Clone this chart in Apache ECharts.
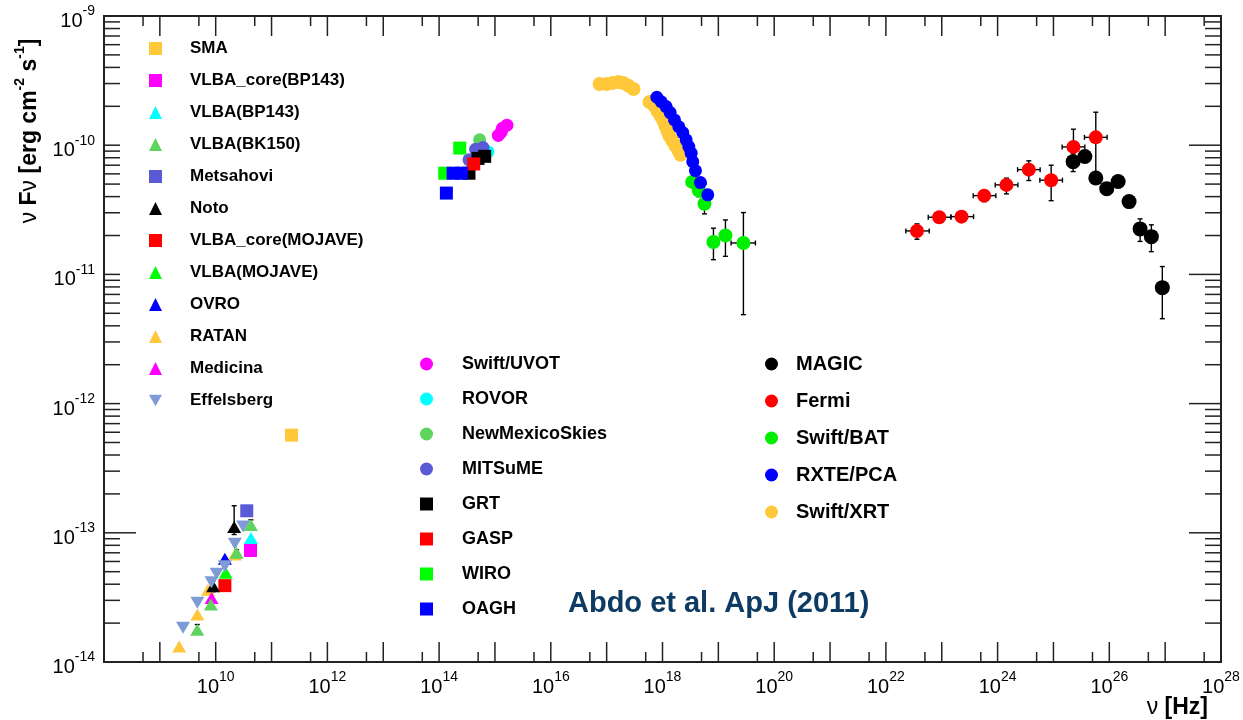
<!DOCTYPE html>
<html>
<head>
<meta charset="utf-8">
<title>Mrk 421 SED</title>
<script src="https://cdn.jsdelivr.net/npm/echarts@6/dist/echarts.min.js"></script>
<style>
  html, body { margin: 0; padding: 0; background: #ffffff; }
  #chart { width: 1243px; height: 720px; }
</style>
</head>
<body>
<div id="chart"></div>
<script>
// ---- data: [frequency (Hz), nuFnu (erg cm^-2 s^-1)] ----
// radio / mm
const smaData = [[2.28e11, 5.7e-13]];
const vlbaCoreBP143Data = [[4.2e10, 7.3e-14]];
const vlbaBP143Data = [[4.27e10, 9.1e-14]];
const vlbaBK150Data = [[4.27e10, 1.15e-13], [2.37e10, 7.0e-14], [8.2e9, 2.79e-14], [4.67e9, 1.78e-14]];
const metsahoviData = [[3.6e10, 1.48e-13]];
const notoData = [[2.14e10, 1.11e-13], [9.0e9, 3.85e-14]];
const vlbaCoreMojaveData = [[1.46e10, 3.9e-14]];
const vlbaMojaveData = [[1.51e10, 4.9e-14]];
const ovroData = [[1.46e10, 6.3e-14]];
const ratanData = [[2.2e10, 6.8e-14], [7.3e9, 3.63e-14], [4.7e9, 2.33e-14], [2.22e9, 1.32e-14]];
const medicinaData = [[8.45e9, 3.13e-14]];
const effelsbergData = [[3.1e10, 1.12e-13], [2.2e10, 8.24e-14], [1.46e10, 5.5e-14], [1.04e10, 4.83e-14],
                        [8.4e9, 4.14e-14], [4.7e9, 2.87e-14], [2.6e9, 1.84e-14]];
// radio y-ranges [low, high]
const vlbaCoreBP143YErr = [[6.6e-14, 8.0e-14]];
const vlbaBK150YErr = [[1.05e-13, 1.26e-13], [6.6e-14, 7.4e-14], [2.6e-14, 3.0e-14], [1.65e-14, 1.95e-14]];
const notoYErr = [[9.7e-14, 1.62e-13], [3.5e-14, 4.25e-14]];

// optical / UV
const swiftUvotData = [[1.15e15, 1.19e-10], [1.30e15, 1.27e-10], [1.36e15, 1.35e-10], [1.64e15, 1.43e-10]];
const rovorData = [[7.5e14, 8.9e-11]];
const newMexicoSkiesData = [[5.32e14, 1.1e-10]];
const mitsumeData = [[6.1e14, 9.6e-11], [4.5e14, 9.3e-11], [3.43e14, 7.7e-11]];
const grtData = [[6.55e14, 8.2e-11], [4.97e14, 7.9e-11], [3.43e14, 6.07e-11]];
const gaspData = [[4.17e14, 7.16e-11]];
const wiroData = [[2.34e14, 9.5e-11], [1.26e14, 6.07e-11]];
const oaghData = [[1.78e14, 6.07e-11], [2.5e14, 6.07e-11], [1.35e14, 4.26e-11]];

// X-ray
const swiftXrtData = [[7.47e16, 2.98e-10], [1.0e17, 2.98e-10], [1.28e17, 3.03e-10], [1.63e17, 3.09e-10],
  [2.0e17, 3.03e-10], [2.47e17, 2.88e-10], [3.03e17, 2.72e-10],
  [5.85e17, 2.16e-10], [7.19e17, 2.01e-10], [8.14e17, 1.84e-10], [9.2e17, 1.69e-10], [1.04e18, 1.54e-10],
  [1.13e18, 1.41e-10], [1.23e18, 1.29e-10], [1.33e18, 1.18e-10], [1.51e18, 1.08e-10], [1.71e18, 9.88e-11],
  [1.93e18, 9.04e-11], [2.1e18, 8.42e-11]];
const rxtePcaData = [[7.91e17, 2.35e-10], [9.49e17, 2.17e-10], [1.16e18, 1.99e-10], [1.37e18, 1.79e-10],
  [1.64e18, 1.57e-10], [1.96e18, 1.39e-10], [2.31e18, 1.25e-10], [2.65e18, 1.10e-10], [2.96e18, 9.75e-11],
  [3.26e18, 8.67e-11], [3.48e18, 7.46e-11], [3.89e18, 6.35e-11], [4.78e18, 5.14e-11], [6.46e18, 4.13e-11]];
const swiftBatData = [[3.4e18, 5.2e-11], [4.46e18, 4.46e-11], [5.64e18, 3.52e-11], [8.17e18, 1.78e-11],
  [1.34e19, 2.0e-11], [2.81e19, 1.75e-11]];
const swiftBatYErr = [[4.9e-11, 5.5e-11], [4.0e-11, 4.96e-11], [2.94e-11, 5.02e-11], [1.30e-11, 2.28e-11],
  [1.38e-11, 2.64e-11], [4.88e-12, 3.01e-11]];
const swiftBatXErr = [null, null, null, null, null, [1.69e19, 4.61e19]];

// gamma-ray
const fermiData = [[3.6e22, 2.17e-11], [9.0e22, 2.77e-11], [2.26e23, 2.8e-11], [5.75e23, 4.07e-11],
  [1.44e24, 4.93e-11], [3.62e24, 6.47e-11], [9.1e24, 5.36e-11], [2.28e25, 9.7e-11], [5.73e25, 1.15e-10]];
const fermiXErr = [[2.28e22, 5.97e22], [5.73e22, 1.46e23], [1.46e23, 3.71e23], [3.66e23, 9.31e23],
  [9.06e23, 2.31e24], [2.28e24, 5.78e24], [5.71e24, 1.45e25], [1.43e25, 3.65e25], [3.59e25, 9.14e25]];
const fermiYErr = [[1.87e-11, 2.46e-11], [2.62e-11, 2.93e-11], [2.66e-11, 2.95e-11], [3.66e-11, 4.46e-11],
  [4.2e-11, 5.56e-11], [5.33e-11, 7.57e-11], [3.72e-11, 7.0e-11], [7.46e-11, 1.33e-10], [5.0e-11, 1.8e-10]];
const magicData = [[2.25e25, 7.46e-11], [3.65e25, 8.17e-11], [5.73e25, 5.58e-11], [9.0e25, 4.61e-11],
  [1.44e26, 5.23e-11], [2.26e26, 3.66e-11], [3.56e26, 2.25e-11], [5.66e26, 1.96e-11], [8.9e26, 7.9e-12]];
const magicYErr = [[6.25e-11, 8.57e-11], [7.6e-11, 8.8e-11], [5.1e-11, 6.1e-11], [4.3e-11, 4.95e-11],
  [4.9e-11, 5.6e-11], [3.35e-11, 4.0e-11], [1.8e-11, 2.69e-11], [1.5e-11, 2.42e-11], [4.54e-12, 1.15e-11]];

// legend columns
const legendRadio = ['SMA', 'VLBA_core(BP143)', 'VLBA(BP143)', 'VLBA(BK150)', 'Metsahovi', 'Noto',
  'VLBA_core(MOJAVE)', 'VLBA(MOJAVE)', 'OVRO', 'RATAN', 'Medicina', 'Effelsberg'];
const legendOptical = ['Swift/UVOT', 'ROVOR', 'NewMexicoSkies', 'MITSuME', 'GRT', 'GASP', 'WIRO', 'OAGH'];
const legendHigh = ['MAGIC', 'Fermi', 'Swift/BAT', 'RXTE/PCA', 'Swift/XRT'];

// axis range
const xMin = 1e8, xMax = 1e28;
const yMin = 1e-14, yMax = 1e-9;

// ---- styling ----
const FONT = '"Liberation Sans", Arial, Helvetica, sans-serif';
const FRAME = '#222222';
const SQ = 'rect', TRI = 'triangle', CIR = 'circle';
const DTRI = 'path://M0,0L10,0L5,8.66Z';

function marks(name, data, symbol, color, size) {
  return {
    type: 'scatter', name: name, data: data, symbol: symbol,
    symbolSize: size || (symbol === SQ ? 13 : symbol === CIR ? 14 : [14, 12]),
    itemStyle: { color: color, opacity: 1 },
    emphasis: { disabled: true }, z: 3
  };
}

// error bar records: [x, y, xlo, xhi, ylo, yhi]
function errRows(data, xErr, yErr) {
  return data.map(function (p, i) {
    const xe = xErr && xErr[i] ? xErr[i] : [p[0], p[0]];
    const ye = yErr && yErr[i] ? yErr[i] : [p[1], p[1]];
    return [p[0], p[1], xe[0], xe[1], ye[0], ye[1]];
  });
}
const errorRows = [].concat(
  errRows(vlbaCoreBP143Data, null, vlbaCoreBP143YErr),
  errRows(vlbaBK150Data, null, vlbaBK150YErr),
  errRows(notoData, null, notoYErr),
  errRows(swiftBatData, swiftBatXErr, swiftBatYErr),
  errRows(fermiData, fermiXErr, fermiYErr),
  errRows(magicData, null, magicYErr)
);

// frame tick marks: [x, y, kind(0 = x tick, 1 = y tick), length near side, length far side]
const tickRows = [];
for (let e = 8; e < 28; e++) {
  const d = Math.pow(10, e);
  if (e > 8) tickRows.push([d, 1e-12, 0, 20, 20]);
  tickRows.push([5 * d, 1e-12, 0, 10, 10]);
}
for (let e = -14; e < -9; e++) {
  const d = Math.pow(10, e);
  if (e > -14) tickRows.push([1e10, d, 1, e === -13 ? 32 : 16, 32]);
  for (let m = 2; m <= 9; m++) tickRows.push([1e10, m * d, 1, 16, 16]);
}

const powRich = {
  b: { fontFamily: FONT, fontSize: 20, lineHeight: 27, verticalAlign: 'bottom', color: '#000' },
  s: { fontFamily: FONT, fontSize: 14, lineHeight: 12, verticalAlign: 'top', color: '#000' }
};
function expOf(v) { return Math.round(Math.log10(v)); }

function legendCol(names, left, top, gap, fontSize, pad) {
  return {
    data: names, orient: 'vertical', left: left, top: top, padding: 0,
    itemGap: gap, itemWidth: 13, itemHeight: 13, selectedMode: false,
    formatter: function (n) { return '{t|' + n + '}'; },
    textStyle: {
      rich: { t: { fontFamily: FONT, fontWeight: 'bold', fontSize: fontSize, lineHeight: fontSize,
                   color: '#000', padding: [0, 0, 0, pad] } }
    }
  };
}

const chart = echarts.init(document.getElementById('chart'), null, { renderer: 'canvas' });

chart.setOption({
  animation: false,
  backgroundColor: '#ffffff',
  grid: {
    left: 104, right: 22, top: 16, bottom: 58,
    show: true, borderColor: FRAME, borderWidth: 2, backgroundColor: 'transparent',
    outerBoundsMode: 'none'
  },
  xAxis: {
    type: 'log', logBase: 10, min: xMin, max: xMax, interval: 1,
    axisLine: { show: false }, axisTick: { show: false }, splitLine: { show: false },
    axisLabel: {
      show: true, margin: 8, showMinLabel: true, showMaxLabel: true,
      formatter: function (v) {
        const e = expOf(v);
        return (e % 2 === 0 && e >= 10) ? '{b|10}{s|' + e + '}' : '';
      },
      rich: powRich
    }
  },
  yAxis: {
    type: 'log', logBase: 10, min: yMin, max: yMax, interval: 1,
    axisLine: { show: false }, axisTick: { show: false }, splitLine: { show: false },
    axisLabel: {
      show: true, margin: 9, showMinLabel: true, showMaxLabel: true, padding: [4, 0, 0, 0],
      formatter: function (v) { return '{b|10}{s|' + expOf(v) + '}'; },
      rich: powRich
    }
  },
  legend: [
    legendCol(legendRadio, 149, 40, 15, 17, 23),
    legendCol(legendOptical, 420, 355, 17, 18, 24),
    legendCol(legendHigh, 765, 354, 17, 20, 13)
  ],
  graphic: [
    {
      type: 'text', x: 27, y: 131, rotation: Math.PI / 2, silent: true,
      style: {
        text: '{n|\u03bd }{b|F}{n|\u03bd}{b| [erg cm}{s|-2}{b| s}{s|-1}{b|]}',
        align: 'center', verticalAlign: 'middle',
        rich: {
          n: { fontFamily: FONT, fontSize: 23, lineHeight: 28, verticalAlign: 'bottom', fill: '#000' },
          b: { fontFamily: FONT, fontSize: 23, fontWeight: 'bold', lineHeight: 28, verticalAlign: 'bottom', fill: '#000' },
          s: { fontFamily: FONT, fontSize: 14, fontWeight: 'bold', lineHeight: 14, verticalAlign: 'top', fill: '#000' }
        }
      }
    },
    {
      type: 'text', x: 1208, y: 708, silent: true,
      style: {
        text: '{n|\u03bd }{b|[Hz]}', align: 'right', verticalAlign: 'middle',
        rich: {
          n: { fontFamily: FONT, fontSize: 23, fill: '#000' },
          b: { fontFamily: FONT, fontSize: 23, fontWeight: 'bold', fill: '#000' }
        }
      }
    },
    {
      type: 'text', x: 568, y: 604, silent: true,
      style: {
        text: 'Abdo et al. ApJ (2011)', fill: '#0e3b63',
        fontFamily: FONT, fontSize: 29, fontWeight: 'bold', verticalAlign: 'middle'
      }
    }
  ],
  series: [
    {
      type: 'custom', name: 'frameTicks', data: tickRows, clip: false, silent: true, z: 6,
      encode: { x: 0, y: 1 },
      renderItem: function (params, api) {
        const cs = params.coordSys;
        const p = api.coord([api.value(0), api.value(1)]);
        const a = api.value(3), b = api.value(4);
        const st = { stroke: FRAME, lineWidth: 1.5 };
        if (api.value(2) === 0) {
          const bottom = cs.y + cs.height, top = cs.y;
          return { type: 'group', children: [
            { type: 'line', shape: { x1: p[0], y1: bottom, x2: p[0], y2: bottom - a }, style: st },
            { type: 'line', shape: { x1: p[0], y1: top, x2: p[0], y2: top + b }, style: st }
          ] };
        }
        const left = cs.x, right = cs.x + cs.width;
        return { type: 'group', children: [
          { type: 'line', shape: { x1: left, y1: p[1], x2: left + a, y2: p[1] }, style: st },
          { type: 'line', shape: { x1: right, y1: p[1], x2: right - b, y2: p[1] }, style: st }
        ] };
      }
    },
    {
      type: 'custom', name: 'errorBars', data: errorRows, silent: true, z: 2,
      encode: { x: 0, y: 1 },
      renderItem: function (params, api) {
        const x = api.value(0), y = api.value(1);
        const c = api.coord([x, y]);
        const xl = api.coord([api.value(2), y])[0], xh = api.coord([api.value(3), y])[0];
        const yl = api.coord([x, api.value(4)])[1], yh = api.coord([x, api.value(5)])[1];
        const st = { stroke: '#000', lineWidth: 1.4 };
        const cap = 2.5, kids = [];
        if (xh - xl > 0.5) {
          kids.push({ type: 'line', shape: { x1: xl, y1: c[1], x2: xh, y2: c[1] }, style: st });
          kids.push({ type: 'line', shape: { x1: xl, y1: c[1] - cap, x2: xl, y2: c[1] + cap }, style: st });
          kids.push({ type: 'line', shape: { x1: xh, y1: c[1] - cap, x2: xh, y2: c[1] + cap }, style: st });
        }
        if (yl - yh > 0.5) {
          kids.push({ type: 'line', shape: { x1: c[0], y1: yh, x2: c[0], y2: yl }, style: st });
          kids.push({ type: 'line', shape: { x1: c[0] - cap, y1: yh, x2: c[0] + cap, y2: yh }, style: st });
          kids.push({ type: 'line', shape: { x1: c[0] - cap, y1: yl, x2: c[0] + cap, y2: yl }, style: st });
        }
        return { type: 'group', children: kids };
      }
    },
    // radio / mm
    marks('SMA', smaData, SQ, '#ffc83a'),
    marks('RATAN', ratanData, TRI, '#ffc83a'),
    marks('Medicina', medicinaData, TRI, '#ff00ff'),
    marks('VLBA_core(MOJAVE)', vlbaCoreMojaveData, SQ, '#ff0000'),
    marks('VLBA(MOJAVE)', vlbaMojaveData, TRI, '#00ff00'),
    marks('OVRO', ovroData, TRI, '#0000ff'),
    marks('Noto', notoData, TRI, '#000000'),
    marks('Effelsberg', effelsbergData, DTRI, '#7f9bd6', [14, 12]),
    marks('VLBA(BK150)', vlbaBK150Data, TRI, '#5ed35e'),
    marks('VLBA_core(BP143)', vlbaCoreBP143Data, SQ, '#ff00ff'),
    marks('VLBA(BP143)', vlbaBP143Data, TRI, '#00ffff'),
    marks('Metsahovi', metsahoviData, SQ, '#5a5ad6'),
    // optical / UV
    marks('Swift/UVOT', swiftUvotData, CIR, '#ff00ff', 13),
    marks('ROVOR', rovorData, CIR, '#00ffff', 13),
    marks('NewMexicoSkies', newMexicoSkiesData, CIR, '#5ed35e', 13),
    marks('MITSuME', mitsumeData, CIR, '#5a5ad6', 13),
    marks('GRT', grtData, SQ, '#000000'),
    marks('GASP', gaspData, SQ, '#ff0000'),
    marks('WIRO', wiroData, SQ, '#00ff00'),
    marks('OAGH', oaghData, SQ, '#0000ff'),
    // X-ray and gamma-ray
    marks('Swift/XRT', swiftXrtData, CIR, '#ffc83a', 14),
    marks('Swift/BAT', swiftBatData, CIR, '#00ee00', 14),
    marks('RXTE/PCA', rxtePcaData, CIR, '#0000ff', 13),
    marks('MAGIC', magicData, CIR, '#000000', 15),
    marks('Fermi', fermiData, CIR, '#ff0000', 14)
  ]
});
</script>
</body>
</html>
